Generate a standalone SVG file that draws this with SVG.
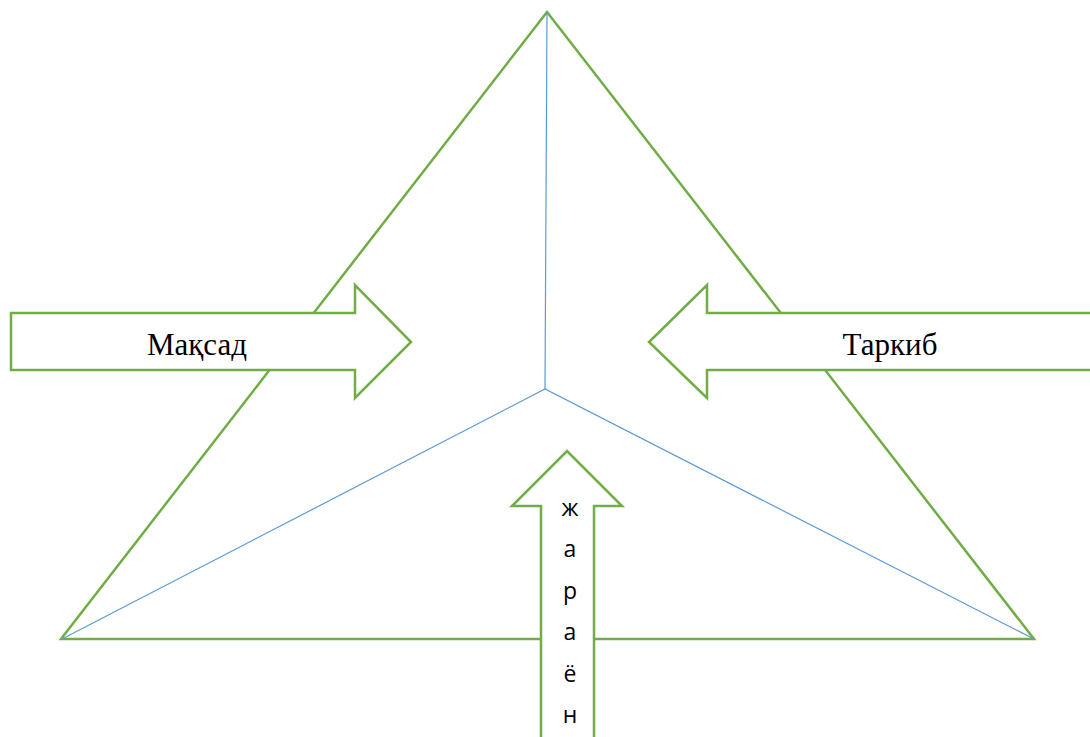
<svg xmlns="http://www.w3.org/2000/svg" width="1090" height="737" viewBox="0 0 1090 737">
<style>
.tri{fill:none;stroke:#70AD47;stroke-width:2.5;stroke-linejoin:miter}
.blue{fill:none;stroke:#5B9BD5;stroke-width:1.2}
.arrow{fill:#FFFFFF;stroke:#70AD47;stroke-width:2.5;stroke-linejoin:miter}
.serif{font-family:"Liberation Serif","Times New Roman",serif;font-size:31px;fill:#000}
.sans{font-family:"Open Sans","Liberation Sans",sans-serif;font-size:23px;fill:#000}
</style>
<rect width="1090" height="737" fill="#FFFFFF"/>
<g id="triangle">
<polygon class="tri" points="547,12 61,639 1034,639"/>
</g>
<g id="connectors">
<polyline class="blue" points="547,12 545,389"/>
<polyline class="blue" points="62,639 545,389 1034,639"/>
</g>
<g id="maqsad">
<polygon class="arrow" points="11,313 355,313 355,285 411,342 355,398 355,370 11,370"/>
<text class="serif" x="197" y="355" text-anchor="middle">Мақсад</text>
</g>
<g id="tarkib">
<polygon class="arrow" points="1095,313 707,313 707,285 649,342 707,398 707,370 1095,370"/>
<text class="serif" x="890" y="355" text-anchor="middle">Таркиб</text>
</g>
<g id="jarayon">
<polygon class="arrow" points="541,745 541,506 512,506 567,451 622,506 594,506 594,745"/>
<text class="sans" x="570" text-anchor="middle"><tspan x="570" y="516">ж</tspan><tspan x="570" y="557">а</tspan><tspan x="570" y="599">р</tspan><tspan x="570" y="640">а</tspan><tspan x="570" y="682">ё</tspan><tspan x="570" y="723">н</tspan></text>
</g>
</svg>
